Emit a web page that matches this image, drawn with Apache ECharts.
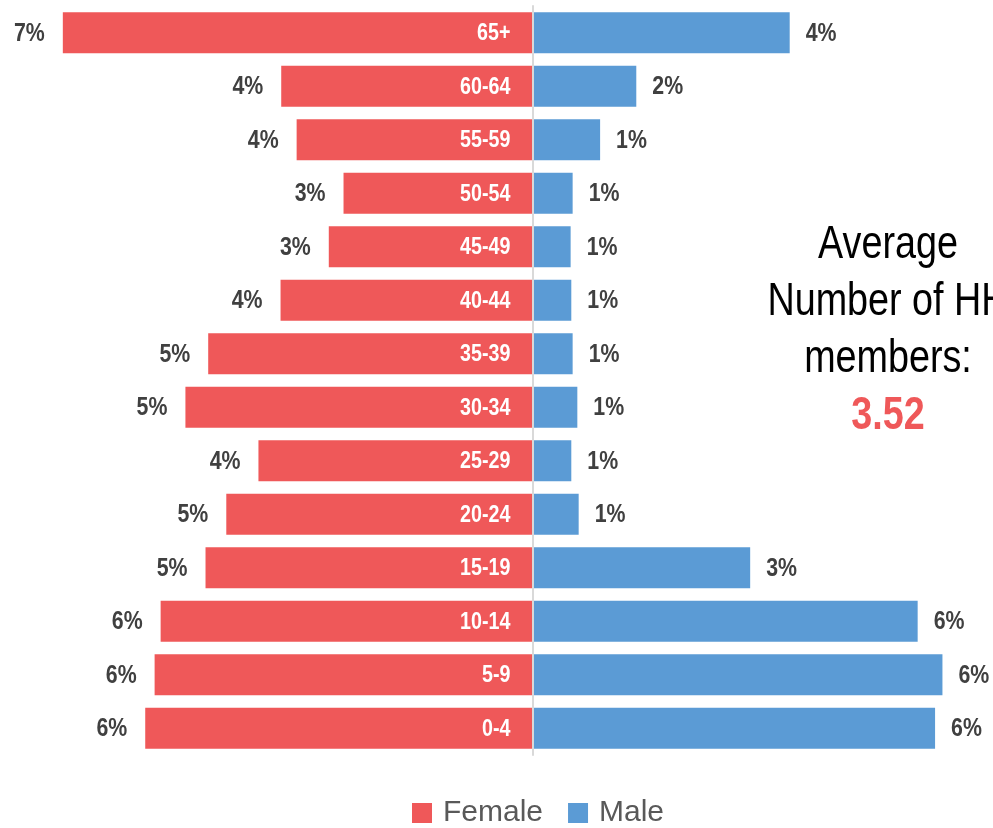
<!DOCTYPE html>
<html>
<head>
<meta charset="utf-8">
<script src="https://cdn.jsdelivr.net/npm/echarts@6/dist/echarts.min.js"></script>
<style>html,body{margin:0;padding:0;background:#fff}#c{width:993px;height:828px}</style>
</head>
<body>
<div id="c"></div>
<script>
// bottom-to-top
const ageGroups = ["0-4","5-9","10-14","15-19","20-24","25-29","30-34","35-39","40-44","45-49","50-54","55-59","60-64","65+"];
const femaleShare = [5.78, 5.64, 5.55, 4.88, 4.57, 4.09, 5.18, 4.84, 3.76, 3.04, 2.82, 3.52, 3.75, 7.01];
const maleShare = [6.01, 6.12, 5.75, 3.25, 0.69, 0.58, 0.67, 0.60, 0.58, 0.57, 0.60, 1.01, 1.55, 3.84];
const avgMembers = "3.52";

const FONT = "'Liberation Sans', Arial, sans-serif";
const NARROW = 0.82; // emulate Arial Narrow
const chart = echarts.init(document.getElementById('c'));

const labelRows = ageGroups.map((g, i) => [femaleShare[i], maleShare[i], i]);

function renderLabels(params, api) {
  const f = api.value(0), m = api.value(1), i = api.value(2);
  const pF = api.coord([-f, i]);
  const p0 = api.coord([0, i]);
  const pM = api.coord([m, i]);
  const mk = (x, y, text, align, color, size) => ({
    type: 'text', x: x, y: y, scaleX: NARROW,
    style: { text: text, align: align, verticalAlign: 'middle', fill: color,
      fontFamily: FONT, fontWeight: 'bold', fontSize: size }
  });
  return {
    type: 'group',
    children: [
      mk(pF[0] - 18, pF[1] + 1, Math.round(f) + '%', 'right', '#404040', 26),
      mk(p0[0] - 22, p0[1] + 1, ageGroups[i], 'right', '#ffffff', 24),
      mk(pM[0] + 16, pM[1] + 1, Math.round(m) + '%', 'left', '#404040', 26)
    ]
  };
}

chart.setOption({
  animation: false,
  grid: { left: 30, right: 5, top: 6, bottom: 73, outerBoundsMode: 'none' },
  xAxis: { type: 'value', min: -7.5, max: 6.8, show: false },
  yAxis: {
    type: 'category', data: ageGroups, z: 10,
    axisLine: { show: true, onZero: true, lineStyle: { color: '#d9d9d9', width: 2 } },
    axisTick: { show: false },
    axisLabel: { show: false }
  },
  legend: {
    top: 798, left: 412, padding: 0, itemWidth: 20, itemHeight: 20, itemGap: 25, icon: 'rect',
    textStyle: { color: '#595959', fontFamily: FONT, fontSize: 30, padding: [0, 0, 0, 6] },
    data: ['Female', 'Male']
  },
  series: [
    {
      name: 'Female', type: 'bar', barWidth: '77%', barGap: '-100%',
      itemStyle: { color: '#EF5859' },
      data: femaleShare.map(v => -v)
    },
    {
      name: 'Male', type: 'bar', barWidth: '77%', barGap: '-100%',
      itemStyle: { color: '#5B9BD5' },
      data: maleShare
    },
    {
      name: 'labels', type: 'custom', z: 10, silent: true,
      renderItem: renderLabels,
      encode: { x: [0, 1], y: 2 },
      data: labelRows
    }
  ],
  graphic: [{
    type: 'text', x: 888, y: 217, z: 20, scaleX: NARROW,
    style: {
      text: 'Average\nNumber of HH\nmembers:\n{v|' + avgMembers + '}',
      align: 'center', verticalAlign: 'top',
      fontFamily: FONT, fontSize: 46, lineHeight: 57, fill: '#000',
      rich: { v: { fontFamily: FONT, fontSize: 46, fontWeight: 'bold', fill: '#EF5859', lineHeight: 57 } }
    }
  }]
});
</script>
</body>
</html>
